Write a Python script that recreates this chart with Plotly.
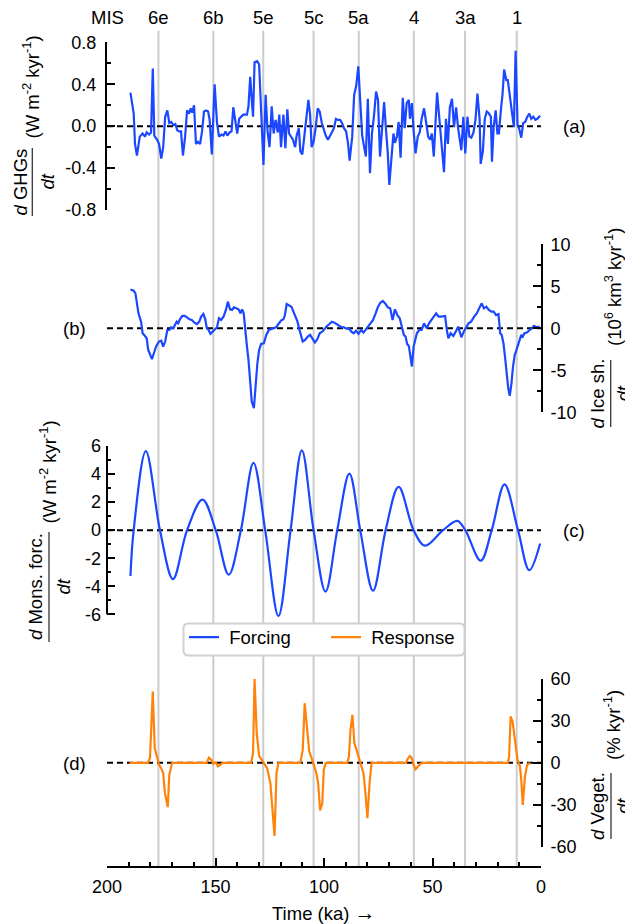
import plotly.graph_objects as go

# ---------------- data ----------------
mis_t = [176.3, 151.0, 128.0, 104.8, 84.0, 58.6, 35.0, 11.2]
mis_labels = ["6e", "6b", "5e", "5c", "5a", "4", "3a", "1"]

ghg_t = [189.2, 187.7, 187.1, 186.2, 184.9, 183.6, 182.5, 181.7, 180.6, 179.7, 178.9, 178.2, 176.9, 176.0,
         175.0, 174.1, 173.2, 172.2, 171.3, 170.4, 169.4, 168.5, 167.6, 166.8, 165.9, 165.0, 164.0, 163.1,
         162.2, 161.4, 160.7, 159.9, 159.0, 158.1, 157.1, 156.2, 155.3, 154.3, 153.4, 152.7, 151.7, 150.4,
         149.3, 148.4, 147.2, 146.3, 145.4, 144.5, 143.5, 142.6, 141.8, 140.9, 140.0, 139.1, 138.1, 137.2,
         136.3, 135.5, 134.8, 134.0, 133.3, 132.7, 132.0, 130.8, 129.9, 129.0, 127.9, 126.9, 126.0, 125.1,
         124.1, 123.2, 122.3, 121.3, 120.6, 119.8, 118.7, 117.8, 116.9, 116.1, 115.2, 114.3, 113.3, 112.6,
         111.6, 110.9, 110.0, 109.0, 108.1, 107.2, 106.4, 105.7, 104.8, 103.8, 102.9, 102.0, 101.0, 100.1,
         99.2, 98.2, 97.3, 96.4, 95.4, 94.5, 93.6, 92.6, 91.7, 90.8, 89.8, 88.9, 88.2, 87.0, 86.1, 85.2,
         84.2, 83.3, 82.4, 81.5, 80.7, 79.8, 78.8, 77.9, 77.0, 76.0, 75.1, 74.2, 73.3, 72.3, 71.4, 70.6,
         69.9, 69.0, 68.0, 67.3, 66.4, 65.6, 64.7, 63.7, 62.8, 61.9, 60.9, 60.4, 59.5, 58.7, 57.8, 56.8,
         55.9, 55.0, 53.9, 52.9, 52.0, 51.1, 50.3, 49.4, 48.6, 47.9, 47.0, 46.0, 44.7, 43.8, 42.9, 42.0,
         41.0, 40.1, 39.1, 38.2, 37.5, 36.7, 35.8, 34.9, 33.9, 33.0, 32.1, 31.1, 30.2, 29.3, 28.3, 27.8,
         26.8, 25.9, 25.0, 24.0, 23.1, 22.6, 21.8, 20.9, 20.1, 19.4, 18.5, 17.7, 17.0, 16.0, 15.3, 14.4,
         13.4, 12.5, 11.7, 10.8, 10.1, 9.1, 8.2, 7.3, 6.3, 5.4, 4.5, 3.5, 2.6, 1.7, 0.4]
ghg_v = [0.32, 0.12, -0.17, -0.28, -0.10, -0.07, -0.10, -0.06, -0.08, -0.06, 0.55, -0.09, -0.13, -0.17,
         -0.31, -0.20, 0.09, 0.15, 0.03, 0.04, 0.01, 0.02, -0.04, -0.05, -0.05, -0.28, -0.10, 0.15,
         0.12, 0.17, 0.13, 0.20, -0.17, -0.15, -0.17, -0.05, 0.14, 0.15, 0.14, 0.06, -0.27, 0.40,
         0.03, -0.10, -0.08, -0.09, -0.05, -0.09, -0.06, -0.05, 0.18, 0.06, -0.07, 0.07, 0.09, 0.11,
         0.11, 0.11, 0.19, 0.47, 0.25, 0.09, 0.61, 0.62, 0.59, 0.15, -0.37, 0.30, -0.05, -0.20,
         0.19, -0.07, 0.06, -0.06, 0.11, -0.20, 0.11, -0.21, 0.16, -0.07, -0.10, -0.13, -0.20, -0.09,
         -0.02, -0.24, -0.27, -0.10, 0.09, 0.25, 0.11, -0.20, -0.15, -0.01, 0.17, 0.14, 0.03, -0.04,
         -0.09, -0.13, -0.10, -0.06, -0.02, 0.07, 0.06, 0.06, 0.03, -0.02, -0.05, -0.17, -0.33, -0.10, 0.30, 0.38,
         0.57, 0.22, -0.09, -0.20, -0.29, 0.26, -0.45, -0.07, 0.09, 0.33, 0.25, -0.29, -0.02, 0.23, -0.04, -0.26,
         -0.56, -0.29, -0.07, -0.16, -0.10, 0.04, -0.30, 0.27, -0.02, 0.22, 0.25, 0.07, 0.22, -0.04, -0.26, -0.10,
         -0.06, 0.07, 0.17, 0.03, -0.10, -0.13, -0.07, -0.29, -0.02, 0.32, 0.11, -0.13, -0.44, 0.07, -0.17, 0.18,
         0.26, -0.01, 0.18, -0.02, -0.10, -0.23, 0.09, -0.26, 0.09, -0.10, -0.11, -0.06, 0.06, 0.31, 0.07, -0.36,
         -0.24, 0.07, 0.14, 0.12, 0.09, -0.34, -0.01, 0.15, -0.07, -0.07, 0.15, 0.31, 0.54, 0.44, 0.44, 0.28,
         0.09, -0.01, 0.72, 0.01, -0.02, -0.11, 0.03, 0.04, 0.09, 0.12, 0.07, 0.09, 0.06, 0.07, 0.10]

ice_t = [189.2, 187.7, 186.9, 186.2, 185.5, 184.3, 183.6, 182.9, 181.7, 181.0, 180.2, 179.3, 178.4, 177.4,
         176.1, 175.0, 174.1, 173.2, 172.2, 171.3, 170.5, 169.4, 168.7, 167.9, 167.2, 166.4, 165.3, 164.2,
         163.1, 162.0, 160.9, 159.7, 158.6, 157.5, 156.6, 155.6, 154.7, 154.0, 153.2, 152.3, 151.5, 150.4,
         149.3, 148.4, 147.4, 146.3, 145.2, 144.3, 143.3, 142.4, 141.5, 140.4, 139.4, 138.5, 137.7, 137.0,
         136.3, 135.5, 134.8, 134.0, 133.3, 132.3, 131.4, 130.7, 129.9, 129.0, 127.7, 126.6, 125.4, 124.3,
         123.2, 122.1, 121.0, 119.8, 118.7, 118.0, 117.2, 116.1, 115.0, 114.1, 113.1, 112.2, 111.3, 110.5,
         109.8, 108.7, 107.5, 106.4, 105.3, 104.2, 103.1, 102.0, 100.8, 99.7, 98.6, 97.5, 96.4, 95.2,
         94.1, 93.0, 91.9, 90.8, 89.7, 88.5, 87.4, 86.3, 85.2, 84.1, 82.9, 81.8, 80.7, 79.6, 78.5, 77.4,
         76.2, 75.1, 74.0, 72.9, 71.8, 70.6, 69.5, 68.4, 67.3, 66.2, 65.1, 64.1, 63.2, 62.4, 61.7, 60.9,
         60.2, 59.5, 58.7, 58.0, 57.2, 56.1, 55.0, 53.9, 52.7, 51.6, 50.5, 49.4, 48.3, 47.2, 46.0, 44.9,
         44.2, 43.4, 42.7, 41.6, 40.4, 39.3, 38.2, 37.5, 36.7, 35.6, 34.5, 33.4, 32.2, 31.5, 30.8, 29.6,
         28.5, 27.4, 26.3, 25.2, 24.0, 22.9, 21.8, 20.7, 19.6, 18.8, 18.1, 17.3, 16.6, 15.8, 15.1, 14.4,
         13.6, 12.9, 12.1, 11.4, 10.6, 9.9, 9.1, 8.4, 7.6, 6.5, 5.4, 4.3, 3.2, 2.1, 0.6]
ice_v = [4.63, 4.48, 4.16, 2.97, 1.78, 0.79, -0.59, -0.79, -1.19, -2.57, -3.17, -3.68, -2.97, -2.18,
         -1.58, -1.47, -2.18, -1.58, -0.20, -0.20, 0.12, 0.00, 0.40, 0.79, 0.59, 1.07, 1.47, 1.47,
         1.31, 1.07, 0.99, 0.67, 0.51, 0.79, 1.39, 1.70, 1.07, 0.00, -0.20, -0.67, -0.44, -0.12,
         0.12, 1.19, 0.99, 1.39, 2.18, 3.17, 2.26, 2.18, 2.50, 2.38, 2.26, 1.78, 2.26, 1.78,
         0.28, -2.18, -3.76, -6.14, -8.71, -9.50, -6.14, -4.16, -2.57, -1.86, -1.78, -0.79, -0.20, -0.12,
         0.00, 0.12, 0.51, 0.91, 1.07, 1.58, 2.89, 2.77, 2.57, 1.98, 1.39, 0.79, -0.20, -0.99,
         -1.58, -1.39, -0.99, -0.79, -1.19, -1.70, -1.31, -0.59, -0.40, 0.00, 0.28, 0.51, 0.79, 0.67,
         0.51, 0.36, 0.12, 0.12, -0.04, 0.00, -0.40, -0.59, -0.28, -0.67, -0.20, -0.51, -0.12, 0.28, 0.59, 0.99,
         1.78, 2.57, 3.05, 3.25, 2.97, 2.50, 2.38, 0.99, 2.26, 1.58, 1.19, 0.28, -0.79, -0.99, -1.86, -2.10,
         -3.37, -4.55, -2.18, -1.39, -0.59, -0.20, -0.20, 0.59, 0.00, 0.59, 1.07, 1.39, 1.78, 1.39, 1.39, 1.39,
         1.47, -0.20, -1.19, -0.59, -0.91, -0.40, 0.20, -0.40, -1.07, -0.40, 0.12, 0.59, 0.79, 1.19, 1.39, 1.78,
         2.38, 2.97, 2.38, 2.57, 2.18, 1.98, 1.98, 1.58, 1.70, -0.59, -0.79, -1.78, -3.37, -5.74, -7.13, -8.04,
         -6.53, -4.55, -3.17, -2.65, -1.98, -1.19, -0.79, -0.99, -0.59, -0.51, -0.20, 0.00, 0.28, 0.12, 0.20]

mons_t = [189.2, 187.7, 182.1, 175.6, 169.6, 163.1, 156.0, 149.9, 143.9, 138.3, 132.5, 127.1, 121.0, 115.4,
          110.2, 104.8, 99.3, 93.9, 88.3, 83.3, 77.4, 71.6, 65.6, 58.7, 53.5, 45.1, 38.6, 34.9, 27.8, 22.7,
          16.8, 10.6, 5.4, 0.4]
mons_v = [-3.27, 0.0, 5.64, 0.0, -3.49, 0.0, 2.18, 0.0, -3.18, 0.0, 4.79, 0.0, -6.12, 0.0,
          5.69, 0.0, -4.39, 0.0, 4.03, 0.0, -4.32, 0.0, 3.08, 0.0, -1.11, 0.0, 0.66, 0.0, -2.18, 0.0,
          3.27, 0.0, -2.85, -0.95]

veg_t = [189.6, 181.2, 180.2, 178.9, 178.0, 176.9, 176.0, 175.0, 174.1, 173.3, 172.0, 171.3, 170.0,
         154.1, 153.0, 151.9, 151.0, 149.9, 148.9, 147.8, 146.7,
         133.6, 132.7, 132.0, 131.0, 129.9, 128.8, 127.7, 126.2, 124.7, 124.0, 122.8, 121.9, 121.0,
         110.9, 109.8, 108.9, 107.9, 106.8, 105.7, 104.6, 103.5, 102.7, 101.8, 100.8, 100.1, 99.2,
         89.3, 88.5, 87.8, 86.9, 86.0, 85.0, 84.1, 82.9, 81.8, 80.9, 80.0, 79.0, 78.1,
         62.3, 61.3, 60.4, 59.5, 58.7, 57.8, 56.7, 55.4, 54.4,
         15.3, 14.7, 14.0, 13.1, 12.0, 10.8, 9.7, 9.1, 8.4, 7.4, 6.4, 5.0]
veg_v = [0.0, 0.0, 3.3, 51.1, 10.5, 4.5, -1.4, -3.8, -7.4, -21.7, -31.7, -8.6, 0.0,
         0.0, 3.8, 2.1, -0.7, 0.5, -2.6, -1.4, 0.0,
         0.0, 6.9, 59.9, 21.2, 5.0, 2.1, -0.2, -3.8, -14.6, -26.5, -52.3, -7.4, 0.0,
         0.0, 9.3, 42.7, 23.6, 8.1, 3.3, -1.4, -7.4, -14.6, -34.1, -28.9, -5.0, 0.0,
         0.0, 4.5, 23.6, 34.4, 14.1, 9.3, 4.5, -1.4, -7.4, -21.7, -39.6, -14.6, 0.0,
         0.0, 3.3, 5.0, 3.3, -1.4, -4.5, -2.6, -0.5, 0.0,
         0.0, 4.5, 33.2, 29.6, 14.1, 2.1, -2.6, -12.2, -30.1, -9.8, -1.4, 0.0]

# ---------------- styling / layout helpers ----------------
BLUE = "#1a47ff"
ORANGE = "#ff820a"
FONT = "Liberation Sans, Arial, Helvetica, sans-serif"
FS = 18.5                    # annotation / legend font size
OFF = 8                      # page body margin
W, H = 625, 916
ML, MR, MT, MB = 99, 92, 0, 57
PW, PH = W - ML - MR, H - MT - MB


def px_x(sx):   # screen px -> paper x
    return (sx - OFF - ML) / PW


def px_y(sy):   # screen px -> paper y
    return (H - MB - (sy - OFF)) / PH


fig = go.Figure()
fig.add_trace(go.Scatter(x=ghg_t, y=ghg_v, yaxis="y", mode="lines", name="\u00a0Forcing",
                         line=dict(color=BLUE, width=2.2), showlegend=True, legend="legend"))
fig.add_trace(go.Scatter(x=ice_t, y=ice_v, yaxis="y2", mode="lines", name="Forcing",
                         line=dict(color=BLUE, width=2.2), showlegend=False))
fig.add_trace(go.Scatter(x=mons_t, y=mons_v, yaxis="y3", mode="lines", name="Forcing",
                         line=dict(color=BLUE, width=2.2, shape="spline", smoothing=1.0), showlegend=False))
fig.add_trace(go.Scatter(x=veg_t, y=veg_v, yaxis="y4", mode="lines", name="\u00a0Response",
                         line=dict(color=ORANGE, width=2.2), showlegend=True, legend="legend2"))


def yax(domain, rng, major, minor, side, dec, standoff, showline=True):
    return dict(domain=domain, range=rng, anchor="x", side=side, showline=showline,
                linecolor="black", linewidth=2, ticks="inside", ticklen=8, tickwidth=2,
                tickcolor="black", tickmode="array", tickvals=major,
                ticktext=[f"{v:.{dec}f}" for v in major], tickfont=dict(size=18, color="black"),
                ticklabelstandoff=standoff,
                minor=dict(tickmode="array", tickvals=minor, ticks="inside", ticklen=4,
                           tickwidth=2, tickcolor="black"),
                showgrid=False, zeroline=False, fixedrange=True, automargin=False)


ya = yax([px_y(210), px_y(42.3)], [-0.8, 0.8], [-0.8, -0.4, 0.0, 0.4, 0.8],
         [-0.6, -0.2, 0.2, 0.6], "left", 1, 5)
yb = yax([px_y(412.3), px_y(244.3)], [-10, 10], [-10, -5, 0, 5, 10],
         [-7.5, -2.5, 2.5, 7.5], "right", 0, 4)
yc = yax([px_y(618.5), px_y(446)], [-6.3, 6], [-6, -4, -2, 0, 2, 4, 6],
         [-5, -3, -1, 1, 3, 5], "left", 0, 5, showline=False)
yd = yax([px_y(846.7), px_y(679)], [-60, 60], [-60, -30, 0, 30, 60],
         [-45, -15, 15, 45], "right", 0, 4)

shapes = []
for t in mis_t:
    shapes.append(dict(type="line", xref="x", yref="paper", x0=t, x1=t, y0=0, y1=px_y(30.7),
                       line=dict(color="#cccccc", width=2), layer="below"))
for yr in ["y", "y2", "y3", "y4"]:
    shapes.append(dict(type="line", xref="x", yref=yr, x0=200, x1=0, y0=0, y1=0,
                       line=dict(color="black", width=2, dash="6px,4px"), layer="below"))
# left axis line of panel (c), spanning only the tick range
shapes.append(dict(type="line", xref="x domain", yref="y3", x0=0, x1=0, y0=-6, y1=6,
                   line=dict(color="black", width=2)))

# rounded legend frame (white, light grey border)
bx0, bx1, by0, by1 = px_x(183.5), px_x(464.5), px_y(655.5), px_y(623.5)
rx, ry = 5 / PW, 5 / PH
frame = (f"M {bx0+rx},{by0} L {bx1-rx},{by0} Q {bx1},{by0} {bx1},{by0+ry} "
         f"L {bx1},{by1-ry} Q {bx1},{by1} {bx1-rx},{by1} L {bx0+rx},{by1} "
         f"Q {bx0},{by1} {bx0},{by1-ry} L {bx0},{by0+ry} Q {bx0},{by0} {bx0+rx},{by0} Z")
shapes.append(dict(type="path", xref="paper", yref="paper", path=frame, fillcolor="white",
                   line=dict(color="#d0d0d0", width=2), layer="above"))

annotations = []
annotations.append(dict(x=200, xref="x", y=px_y(17), yref="paper", text="MIS", showarrow=False,
                        font=dict(size=FS), xanchor="center", yanchor="middle"))
for t, lab in zip(mis_t, mis_labels):
    annotations.append(dict(x=t, xref="x", y=px_y(17), yref="paper", text=lab, showarrow=False,
                            font=dict(size=FS), xanchor="center", yanchor="middle"))
for lab, xx, yy in [("(a)", 574, 126), ("(b)", 74, 328), ("(c)", 574, 530), ("(d)", 74, 763)]:
    annotations.append(dict(x=px_x(xx), xref="paper", y=px_y(yy), yref="paper", text=lab,
                            showarrow=False, font=dict(size=FS), xanchor="center", yanchor="middle"))
annotations.append(dict(x=0.5, xref="paper", y=px_y(912), yref="paper",
                        text="Time (ka) <span style='font-size:21px'>→</span>",
                        showarrow=False, font=dict(size=FS), xanchor="center", yanchor="middle"))


def frac(num, units, xn, xb, xd, yc_, y0, y1, xu, yu):
    for txt, xx, yy in [(num, xn, yc_), ("<i>dt</i>", xd, yc_), (units, xu, yu)]:
        annotations.append(dict(x=px_x(xx), xref="paper", y=px_y(yy), yref="paper", text=txt,
                                textangle=-90, showarrow=False, font=dict(size=FS),
                                xanchor="center", yanchor="middle"))
    shapes.append(dict(type="line", xref="paper", yref="paper", x0=px_x(xb), x1=px_x(xb),
                       y0=px_y(y0), y1=px_y(y1), line=dict(color="#333333", width=1.3)))


frac("<i>d</i> GHGs", "(W m<sup>-2</sup> kyr<sup>-1</sup>)", 19.5, 32.3, 46.5, 182, 148, 216, 32, 87.5)
frac("<i>d</i> Ice sh.", "(10<sup>6</sup> km<sup>3</sup> kyr<sup>-1</sup>)", 597, 610.7, 623, 393.5, 360, 427, 612.5, 287.5)
frac("<i>d</i> Mons. forc.", "(W m<sup>-2</sup> kyr<sup>-1</sup>)", 35, 49, 62.5, 587, 532, 642, 48, 472.5)
frac("<i>d</i> Veget.", "(% kyr<sup>-1</sup>)", 597, 611, 623, 806, 773, 839, 612, 725)

legend_common = dict(orientation="h", xanchor="left", yanchor="top", y=px_y(618.5),
                     bgcolor="rgba(0,0,0,0)", borderwidth=0,
                     font=dict(size=FS, color="black"), itemwidth=30)

fig.update_layout(
    width=W, height=H, margin=dict(l=ML, r=MR, t=MT, b=MB, pad=0), autosize=False,
    paper_bgcolor="white", plot_bgcolor="white",
    font=dict(family=FONT, size=FS, color="black"),
    xaxis=dict(range=[200, 0], domain=[0, 1], anchor="free", position=0, showline=True,
               linecolor="black", linewidth=2, ticks="inside", ticklen=8, tickwidth=2,
               tickcolor="black", tickmode="array", tickvals=[200, 150, 100, 50, 0],
               ticktext=["200", "150", "100", "50", "0"], tickfont=dict(size=18, color="black"),
               ticklabelstandoff=3,
               minor=dict(tickmode="array", tickvals=[190, 180, 170, 160, 140, 130, 120, 110, 90, 80, 70, 60, 40, 30, 20, 10],
                          ticks="inside", ticklen=4, tickwidth=2, tickcolor="black"),
               showgrid=False, zeroline=False, fixedrange=True, automargin=False),
    yaxis=ya, yaxis2=yb, yaxis3=yc, yaxis4=yd,
    shapes=shapes, annotations=annotations,
    legend=dict(x=px_x(184), **legend_common),
    legend2=dict(x=px_x(326), **legend_common),
    showlegend=True,
)

fig.write_html("out.html")
